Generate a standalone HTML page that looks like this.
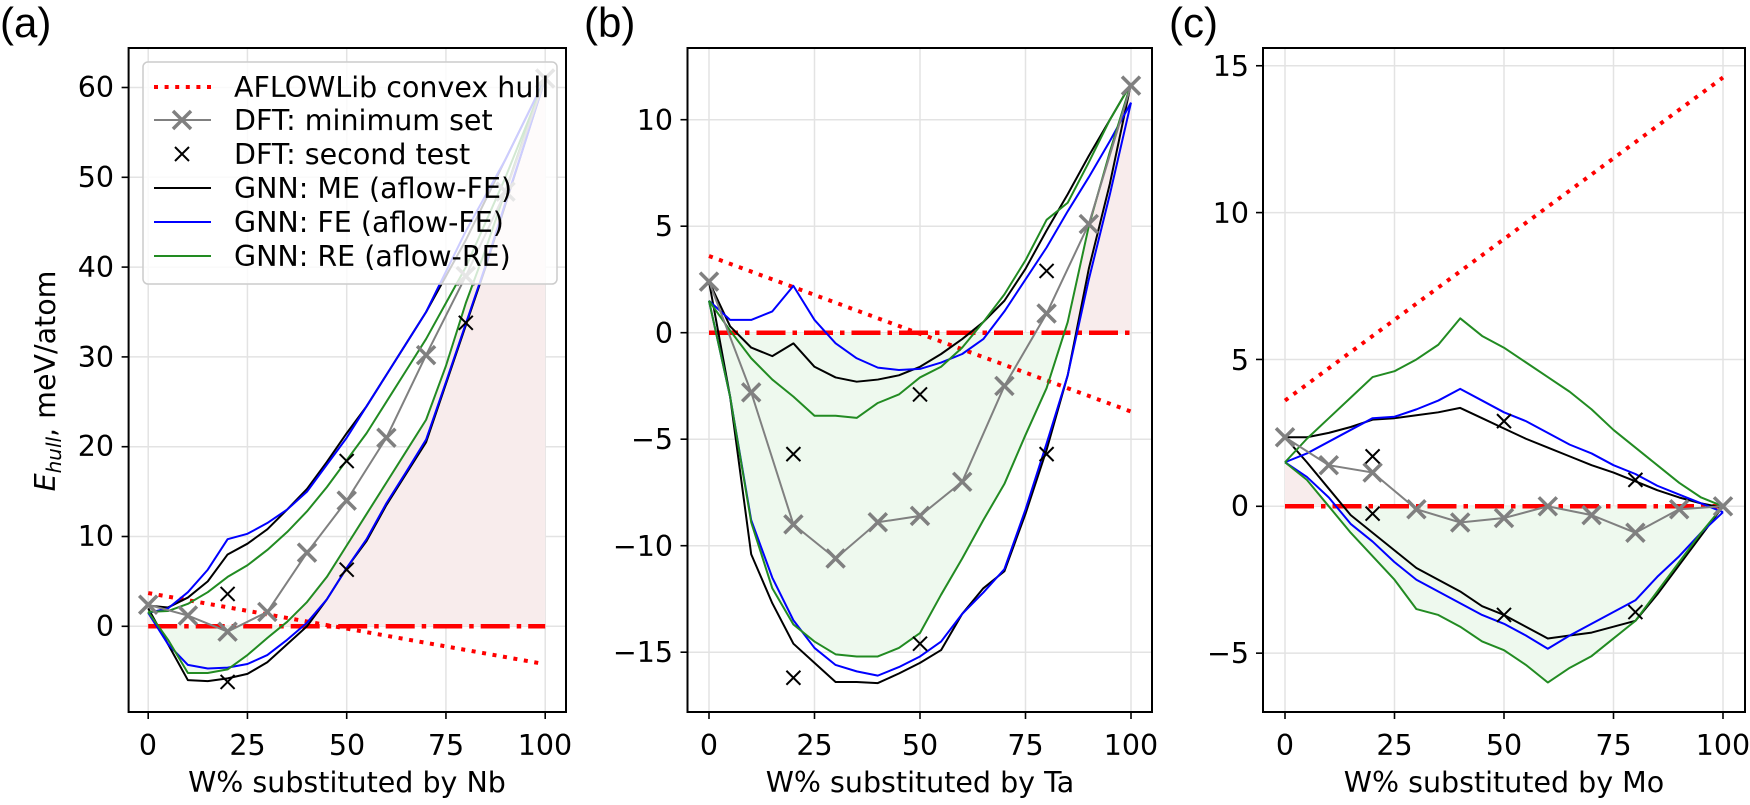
<!DOCTYPE html>
<html><head><meta charset="utf-8"><style>
html,body{margin:0;padding:0;background:#fff;}
svg text{font-family:"DejaVu Sans","Liberation Sans",sans-serif;fill:#000;}
</style></head><body>
<svg id="s" width="1750" height="800" viewBox="0 0 1750 800" xmlns="http://www.w3.org/2000/svg">
<g id="plots"></g>
<g font-size="28.5">
<g text-anchor="end">
<text x="114" y="636">0</text><text x="114" y="546">10</text><text x="114" y="456">20</text><text x="114" y="367">30</text><text x="114" y="277">40</text><text x="114" y="187">50</text><text x="114" y="97">60</text>
<text x="673" y="130">10</text><text x="673" y="236">5</text><text x="673" y="343">0</text><text x="673" y="449">−5</text><text x="673" y="556">−10</text><text x="673" y="662">−15</text>
<text x="1249" y="76">15</text><text x="1249" y="223">10</text><text x="1249" y="370">5</text><text x="1249" y="516">0</text><text x="1249" y="663">−5</text>
</g>
<g text-anchor="middle">
<text x="148" y="755">0</text><text x="247.5" y="755">25</text><text x="347" y="755">50</text><text x="446" y="755">75</text><text x="545" y="755">100</text>
<text x="709" y="755">0</text><text x="814.5" y="755">25</text><text x="920" y="755">50</text><text x="1025.5" y="755">75</text><text x="1131" y="755">100</text>
<text x="1285" y="755">0</text><text x="1394.5" y="755">25</text><text x="1504" y="755">50</text><text x="1613.5" y="755">75</text><text x="1723" y="755">100</text>
<text x="347" y="792">W% substituted by Nb</text>
<text x="920" y="792">W% substituted by Ta</text>
<text x="1504" y="792">W% substituted by Mo</text>
<text transform="translate(55,381) rotate(-90)"><tspan font-style="italic">E</tspan><tspan font-style="italic" font-size="20" dy="6">hull</tspan><tspan dy="-6">, meV/atom</tspan></text>
</g>
</g>
<g font-size="42">
<text x="0" y="37" style="font-family:'Liberation Sans',sans-serif">(a)</text>
<text x="584" y="37" style="font-family:'Liberation Sans',sans-serif">(b)</text>
<text x="1169" y="37" style="font-family:'Liberation Sans',sans-serif">(c)</text>
</g>
<g id="legend">
<rect x="143" y="62" width="414" height="222" rx="5" fill="#fff" fill-opacity="0.8" stroke="#cccccc" stroke-width="1.5"/>
<line x1="154" y1="87" x2="211" y2="87" stroke="#ff0000" stroke-width="4" stroke-dasharray="4 6.6"/>
<line x1="154" y1="120" x2="211" y2="120" stroke="#808080" stroke-width="2"/>
<path d="M173 111 L191 129 M191 111 L173 129" stroke="#808080" stroke-width="3.5"/>
<path d="M175 147 L189 161 M189 147 L175 161" stroke="#000" stroke-width="2"/>
<line x1="154" y1="188" x2="211" y2="188" stroke="#000" stroke-width="2"/>
<line x1="154" y1="222" x2="211" y2="222" stroke="#0000ff" stroke-width="2"/>
<line x1="154" y1="256" x2="211" y2="256" stroke="#228b22" stroke-width="2"/>
<g font-size="28.5">
<text x="234" y="97">AFLOWLib convex hull</text>
<text x="234" y="130">DFT: minimum set</text>
<text x="234" y="164">DFT: second test</text>
<text x="234" y="198">GNN: ME (aflow-FE)</text>
<text x="234" y="232">GNN: FE (aflow-FE)</text>
<text x="234" y="266">GNN: RE (aflow-RE)</text>
</g>
</g>
</svg>
<script>
(function(){
var NS="http://www.w3.org/2000/svg";
var G=document.getElementById('plots');
var X21=[];for(var i=0;i<=100;i+=5)X21.push(i);
function el(t,a,p){var e=document.createElementNS(NS,t);for(var k in a)e.setAttribute(k,a[k]);(p||G).appendChild(e);return e;}
var panels=[
{x0:148.2,sx:3.97,y0:626.3,sy:8.98,L:128.6,R:566,T:48,B:712,yt:[0,10,20,30,40,50,60],
 red:[[0,3.7],[98.5,-4.1]],
 bU:[2.3,2.1,3.2,5,8,9.2,10.8,13,15.3,18.3,21.5,24.5,28,31.5,35,39,43,47.5,52,56.5,61],
 uU:[1.5,2,3.8,6.3,9.7,10.3,11.5,13,15,18,21,24.5,28,31.5,35,39.5,44,48,52,56.5,61],
 gU:[1.6,1.7,2.5,3.8,5.5,6.8,8.5,10.5,12.8,15.5,18.5,21.5,25,28.5,32,36,40,45,50,55.5,61],
 bL:[2,-2,-6,-6.1,-5.8,-5.3,-4,-2,0,3,6.5,9.5,13.5,17,20.5,27,33.5,40,47,54,61],
 uL:[1.5,-2,-4.3,-4.7,-4.6,-4.2,-3.2,-1.5,0.4,3,6.5,9.7,13.7,17.2,20.8,27.2,33.7,40.2,47.2,54,61],
 gL:[1.6,-1.5,-5.2,-5.2,-4.8,-3.2,-1.3,0.5,2.7,5.5,9,12.5,16,19.5,23,29,36,42,48.5,55,61],
 dft:[[0,2.4],[10,1.2],[20,-0.6],[30,1.6],[40,8.2],[50,14],[60,21],[70,30.2],[80,39],[90,48.4],[100,61]],
 sec:[[20,3.6],[20,-6.2],[50,18.4],[50,6.3],[80,33.8]]},
{x0:709,sx:4.22,y0:332.7,sy:21.3,L:687.5,R:1152,T:48,B:712,yt:[-15,-10,-5,0,5,10],
 red:[[0,3.6],[100,-3.7]],
 uU:[1.5,0.6,0.6,1.0,2.2,0.6,-0.5,-1.2,-1.64,-1.75,-1.7,-1.4,-1.0,-0.3,1.0,2.5,4.0,5.7,7.3,9,10.8],
 bU:[2.4,0.3,-0.7,-1.1,-0.5,-1.6,-2.1,-2.3,-2.2,-2.0,-1.6,-1.0,-0.3,0.5,1.5,3.0,4.8,6.5,8.3,10,11.7],
 gU:[1.5,0.1,-1.2,-2.2,-3,-3.9,-3.9,-4.0,-3.3,-2.9,-2.1,-1.6,-0.7,0.5,1.8,3.4,5.3,6.1,8,10,11.7],
 bL:[2.4,-3,-10.4,-12.7,-14.6,-15.5,-16.4,-16.4,-16.45,-16,-15.5,-14.9,-13.2,-12,-11.2,-8.5,-5.5,-2,3,7,11.7],
 uL:[1.5,-3,-8.8,-11.5,-13.5,-14.8,-15.6,-15.9,-16.1,-15.7,-15.2,-14.5,-13.2,-12.2,-11.1,-8.3,-5.2,-2,2.5,6.5,10.8],
 gL:[1.5,-3,-8.9,-12,-13.7,-14.5,-15.1,-15.2,-15.2,-14.8,-14.1,-12.3,-10.6,-8.8,-7.1,-4.8,-2.6,0.5,5,8.5,11.7],
 dft:[[0,2.4],[10,-2.8],[20,-9],[30,-10.6],[40,-8.9],[50,-8.6],[60,-7],[70,-2.5],[80,0.9],[90,5.1],[100,11.6]],
 sec:[[20,-5.7],[20,-16.2],[50,-2.9],[50,-14.6],[80,2.9],[80,-5.7]]},
{x0:1285,sx:4.38,y0:506.3,sy:29.37,L:1263,R:1745,T:48,B:712,yt:[-5,0,5,10,15],
 red:[[0,3.6],[100,14.6]],
 gU:[1.5,2.3,3,3.7,4.4,4.6,5,5.5,6.4,5.8,5.4,4.9,4.4,3.9,3.3,2.6,2.0,1.4,0.8,0.3,0],
 uU:[1.5,1.8,2.2,2.6,3.0,3.05,3.3,3.6,4.0,3.6,3.2,2.9,2.5,2.1,1.8,1.4,1.1,0.7,0.4,0.1,-0.2],
 bU:[2.35,2.35,2.5,2.7,2.95,3.0,3.1,3.2,3.35,3.0,2.65,2.3,2.0,1.7,1.4,1.15,0.85,0.55,0.3,0.1,-0.05],
 bL:[2.35,1.5,0.6,-0.3,-0.9,-1.5,-2.1,-2.5,-2.9,-3.4,-3.7,-4.1,-4.5,-4.4,-4.3,-4.1,-3.9,-3,-2,-1,0],
 uL:[1.5,1.0,0.3,-0.6,-1.2,-1.9,-2.5,-2.9,-3.3,-3.7,-4.0,-4.4,-4.85,-4.4,-4.0,-3.6,-3.2,-2.4,-1.7,-0.9,-0.2],
 gL:[1.5,0.9,0,-0.9,-1.7,-2.5,-3.5,-3.7,-4.1,-4.6,-4.9,-5.4,-6.0,-5.5,-5.1,-4.5,-3.9,-2.9,-1.9,-0.9,0],
 dft:[[0,2.35],[10,1.4],[20,1.15],[30,-0.1],[40,-0.55],[50,-0.4],[60,0],[70,-0.3],[80,-0.9],[90,-0.1],[100,0]],
 sec:[[20,1.7],[20,-0.25],[50,2.9],[50,-3.7],[80,0.9],[80,-3.6]]}
];
panels.forEach(function(p,pi){
  function X(v){return p.x0+p.sx*v;} function Y(v){return p.y0-p.sy*v;}
  var g=el('g',{});
  var cid='clip'+pi;
  var defs=el('defs',{},g);
  var cp=el('clipPath',{id:cid},defs); el('rect',{x:p.L,y:p.T,width:p.R-p.L,height:p.B-p.T},cp);
  var cg=el('clipPath',{id:cid+'g'},defs); el('rect',{x:p.L,y:Y(0),width:p.R-p.L,height:p.B-Y(0)},cg);
  var cr=el('clipPath',{id:cid+'r'},defs); el('rect',{x:p.L,y:p.T,width:p.R-p.L,height:Y(0)-p.T},cr);
  [0,25,50,75,100].forEach(function(v){el('line',{x1:X(v),x2:X(v),y1:p.T,y2:p.B,stroke:'#e3e3e3','stroke-width':1.5},g);
    el('line',{x1:X(v),x2:X(v),y1:p.B,y2:p.B+7,stroke:'#000','stroke-width':1.6},g);});
  p.yt.forEach(function(v){el('line',{x1:p.L,x2:p.R,y1:Y(v),y2:Y(v),stroke:'#e3e3e3','stroke-width':1.5},g);
    el('line',{x1:p.L-7,x2:p.L,y1:Y(v),y2:Y(v),stroke:'#000','stroke-width':1.6},g);});
  var inner=el('g',{'clip-path':'url(#'+cid+')'},g);
  var poly=X21.map(function(x,i){return X(x)+','+Y(p.gL[i]);}).join(' ')+' '+X(100)+','+Y(0)+' '+X(0)+','+Y(0);
  el('polygon',{points:poly,fill:'#eef9ee','clip-path':'url(#'+cid+'g)'},inner);
  el('polygon',{points:poly,fill:'#f8ecec','clip-path':'url(#'+cid+'r)'},inner);
  el('line',{x1:X(p.red[0][0]),y1:Y(p.red[0][1]),x2:X(p.red[1][0]),y2:Y(p.red[1][1]),stroke:'#ff0000','stroke-width':4,'stroke-dasharray':'4 6.6'},inner);
  el('line',{x1:X(0),y1:Y(0),x2:X(100),y2:Y(0),stroke:'#ff0000','stroke-width':4.5,'stroke-dasharray':'29 7 4.5 7'},inner);
  function line(arr,col){el('polyline',{points:X21.map(function(x,i){return X(x)+','+Y(arr[i]);}).join(' '),fill:'none',stroke:col,'stroke-width':2,'stroke-linejoin':'round'},inner);}
  line(p.bU,'#000');line(p.bL,'#000');
  line(p.uU,'#0000ff');line(p.uL,'#0000ff');
  line(p.gU,'#228b22');line(p.gL,'#228b22');
  el('polyline',{points:p.dft.map(function(d){return X(d[0])+','+Y(d[1]);}).join(' '),fill:'none',stroke:'#808080','stroke-width':2},inner);
  p.dft.forEach(function(d){var x=X(d[0]),y=Y(d[1]);
    el('path',{d:'M'+(x-9)+' '+(y-9)+'L'+(x+9)+' '+(y+9)+'M'+(x+9)+' '+(y-9)+'L'+(x-9)+' '+(y+9),stroke:'#808080','stroke-width':3.5},g);});
  p.sec.forEach(function(d){var x=X(d[0]),y=Y(d[1]);
    el('path',{d:'M'+(x-7)+' '+(y-7)+'L'+(x+7)+' '+(y+7)+'M'+(x+7)+' '+(y-7)+'L'+(x-7)+' '+(y+7),stroke:'#000','stroke-width':2},g);});
  el('rect',{x:p.L,y:p.T,width:p.R-p.L,height:p.B-p.T,fill:'none',stroke:'#000','stroke-width':2},g);
});
var s=document.getElementById('s');s.appendChild(document.getElementById('legend'));
})();
</script>
</body></html>
